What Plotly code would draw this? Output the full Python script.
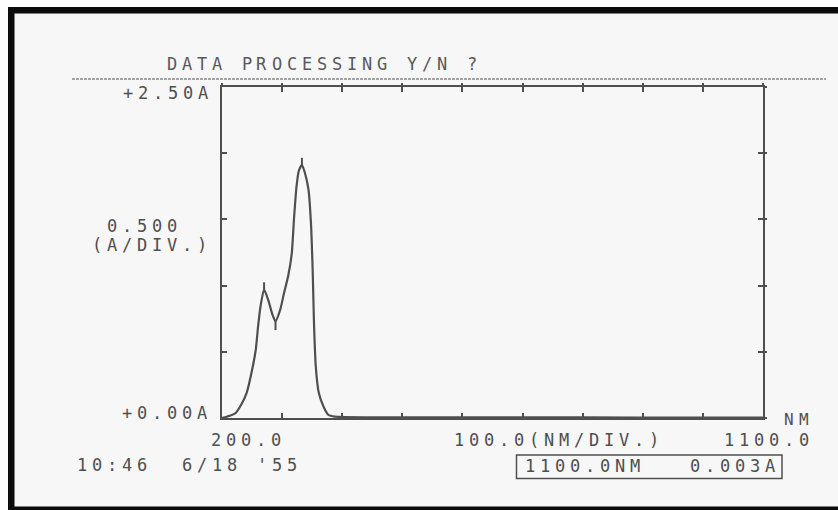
import plotly.graph_objects as go

# Absorbance spectrum (wavelength in nm, absorbance in A)
wavelength_nm = [200, 208, 222, 233, 241, 249, 256, 260, 264, 270, 277, 284, 289,
                 297, 303, 310, 316, 320, 324, 328, 333, 338, 344, 348, 351, 353,
                 356, 361, 369, 377, 388, 450, 600, 800, 1000, 1100]
absorbance = [0.0, 0.01, 0.035, 0.11, 0.19, 0.34, 0.51, 0.69, 0.84, 0.97, 0.89, 0.78, 0.73,
              0.82, 0.94, 1.07, 1.24, 1.52, 1.75, 1.87, 1.91, 1.85, 1.72, 1.47, 1.09, 0.72,
              0.39, 0.19, 0.085, 0.023, 0.01, 0.005, 0.004, 0.004, 0.003, 0.003]

# Peak / valley picks
peak_nm = [270, 333]
peak_abs = [0.97, 1.91]
valley_nm = [289]
valley_abs = [0.73]

# Scan settings
x_range = [200.0, 1100.0]
y_range = [0.0, 2.5]
x_step = 100.0
y_step = 0.5
clock = "10:46  6/18 '55"

W, H = 838, 510
L, R, T, B = 222, 763, 87, 418   # plot frame in pixels


def px(x):
    return (x - L) / (R - L)


def py(y):
    return (B - y) / (B - T)


INK = "#4f4f4f"
BG = "#f6f7f6"
FONT = "DejaVu Sans Mono"
PITCH = 15  # printer character cell width

fig = go.Figure()

fig.add_trace(go.Scatter(
    x=wavelength_nm, y=absorbance, mode="lines",
    line=dict(color=INK, width=2.2, shape="spline", smoothing=0.6),
    hoverinfo="skip", showlegend=False))

# short vertical pick marks at peaks (up) and valleys (down)
mark_len = 0.055
sx, sy = [], []
for x, y in zip(peak_nm, peak_abs):
    sx += [x, x, None]
    sy += [y, y + mark_len, None]
for x, y in zip(valley_nm, valley_abs):
    sx += [x, x, None]
    sy += [y, y - mark_len * 1.2, None]
fig.add_trace(go.Scatter(
    x=sx, y=sy, mode="lines", line=dict(color=INK, width=2),
    hoverinfo="skip", showlegend=False))

# carrier trace for the top/right tick axes
fig.add_trace(go.Scatter(x=[None], y=[None], xaxis="x2", yaxis="y2",
                         hoverinfo="skip", showlegend=False))

axis_common = dict(showgrid=False, zeroline=False, showticklabels=False,
                   tickcolor=INK, tickwidth=2, fixedrange=True)
fig.update_layout(
    width=W, height=H, autosize=False,
    margin=dict(l=L, r=W - R, t=T, b=H - B, pad=0),
    paper_bgcolor=BG, plot_bgcolor=BG,
    xaxis=dict(range=x_range, tick0=x_range[0], dtick=x_step, ticks="inside",
               ticklen=5, showline=True, linecolor=INK, linewidth=2,
               mirror="ticks", **axis_common),
    yaxis=dict(range=y_range, tick0=y_range[0], dtick=y_step, ticks="inside",
               ticklen=5, showline=True, linecolor=INK, linewidth=2,
               mirror="ticks", **axis_common),
    xaxis2=dict(range=x_range, tick0=x_range[0], dtick=x_step, overlaying="x",
                side="top", anchor="y", ticks="outside", ticklen=3,
                showline=False, **axis_common),
    yaxis2=dict(range=y_range, tick0=y_range[0], dtick=y_step, overlaying="y",
                side="right", anchor="x", ticks="outside", ticklen=3,
                showline=False, **axis_common),
)


def print_text(s, x0, y0, color=INK, size=17):
    """Lay out a string in fixed printer cells; x0 is the first cell centre."""
    for i, ch in enumerate(s):
        if ch == " ":
            continue
        fig.add_annotation(
            x=px(x0 + i * PITCH), y=py(y0), xref="paper", yref="paper",
            text=ch, showarrow=False, xanchor="center", yanchor="middle",
            borderpad=0, font=dict(family=FONT, size=size, color=color))


readout = f"{wavelength_nm[-1]:.1f}NM   {absorbance[-1]:.3f}A"

print_text("DATA PROCESSING Y/N ?", 171.5, 64, color="#5a5a5a")
print_text(f"+{y_range[1]:.2f}A", 128, 93)
print_text(f"{y_step:.3f}", 112, 226)
print_text("(A/DIV.)", 97, 245)
print_text(f"+{y_range[0]:.2f}A", 127, 413)
print_text(f"{x_range[0]:.1f}", 216, 440)
print_text(f"{x_step:.1f}(NM/DIV.)", 459, 440)
print_text(f"{x_range[1]:.1f}", 729, 440)
print_text("NM", 789, 419, size=16)
print_text(clock, 82, 465)
print_text(readout, 529.5, 466)

shapes = []
# dotted rule under the prompt line
shapes.append(dict(type="line", xref="paper", yref="paper",
                   x0=px(72), x1=px(826), y0=py(79), y1=py(79),
                   line=dict(color="#8a8a8a", width=1.5, dash="3px,1px")))
# readout box
shapes.append(dict(type="rect", xref="paper", yref="paper",
                   x0=px(516.5), x1=px(782), y0=py(455), y1=py(478.5),
                   line=dict(color=INK, width=1.5), fillcolor="rgba(0,0,0,0)"))
# black edge of the printout
for x0, x1, y0, y1 in [(8, W, 7, 13.5), (8, 14.5, 7, 507), (8, W, 506.5, H)]:
    shapes.append(dict(type="rect", xref="paper", yref="paper",
                       x0=px(x0), x1=px(x1), y0=py(y1), y1=py(y0),
                       line=dict(width=0), fillcolor="#0b0b0b"))
# white strip outside the printout
for x0, x1, y0, y1 in [(0, 8, 0, H), (0, W, 0, 7)]:
    shapes.append(dict(type="rect", xref="paper", yref="paper",
                       x0=px(x0), x1=px(x1), y0=py(y1), y1=py(y0),
                       line=dict(width=0), fillcolor="#fdfdfd", layer="below"))
fig.update_layout(shapes=shapes)

fig.write_html("out.html", config={"displayModeBar": False})
